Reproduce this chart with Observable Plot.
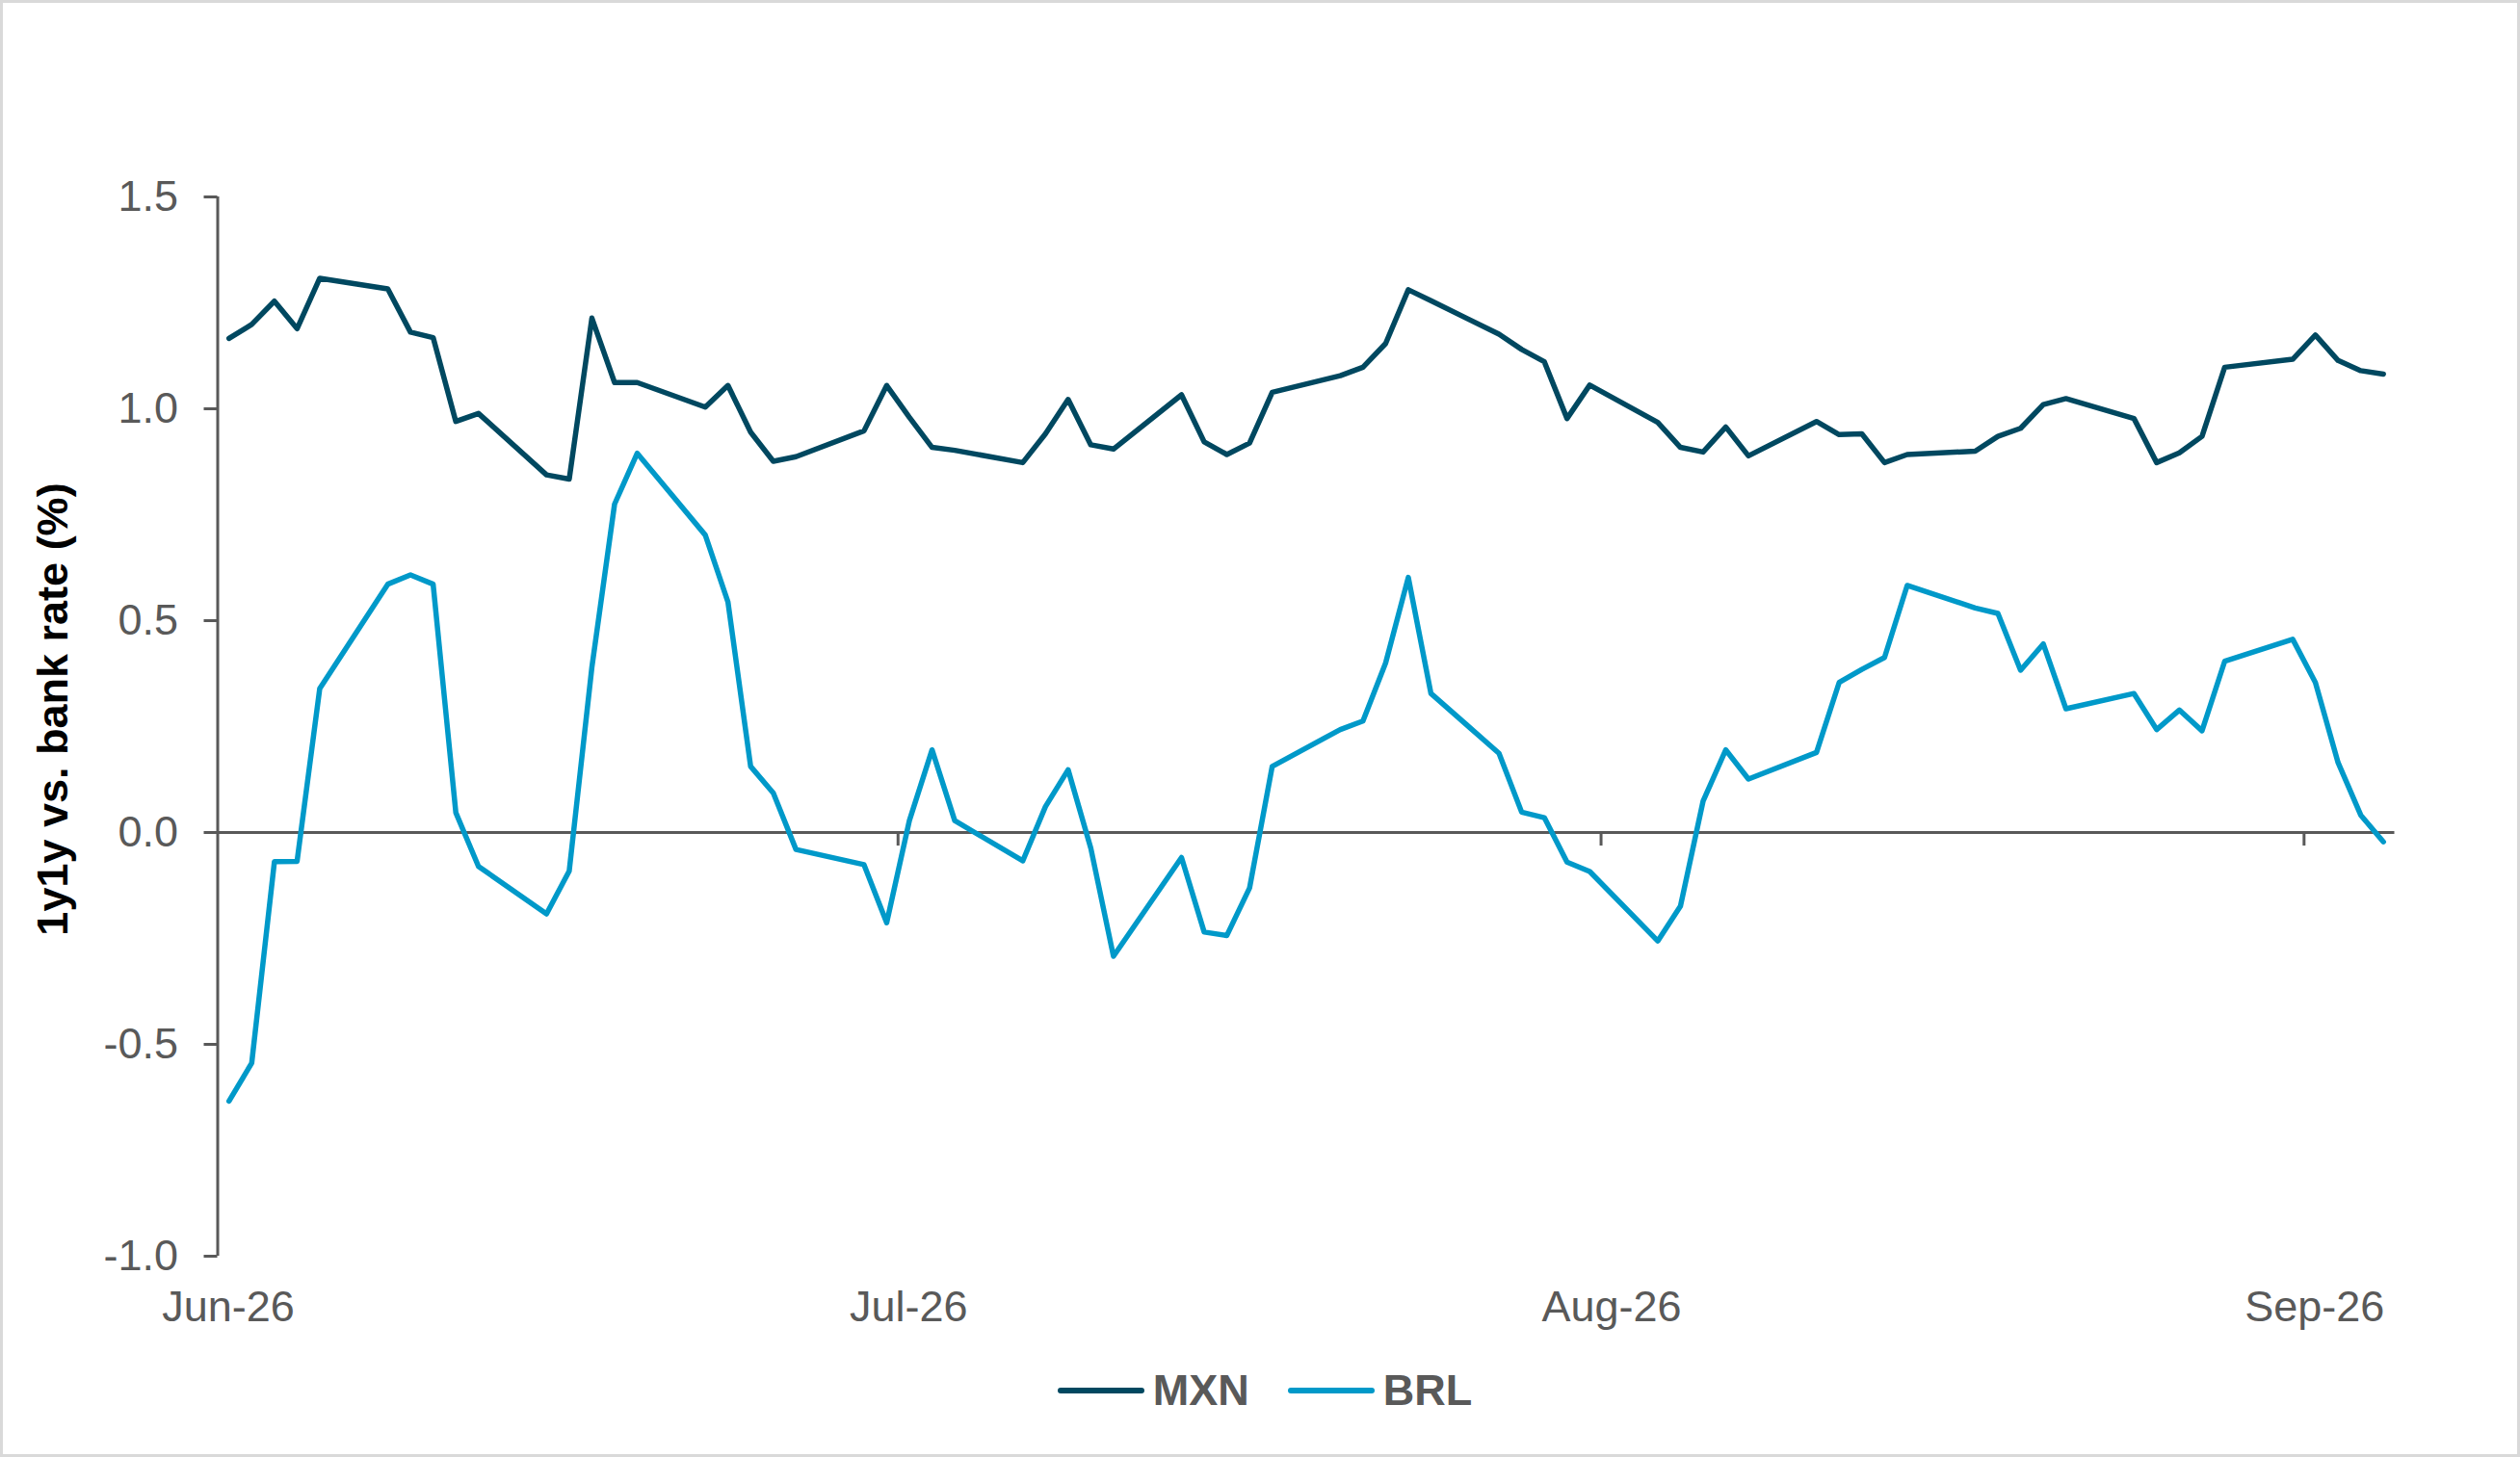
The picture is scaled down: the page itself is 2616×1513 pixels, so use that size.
<!DOCTYPE html>
<html>
<head>
<meta charset="utf-8">
<script src="https://cdn.jsdelivr.net/npm/d3@7"></script>
<script src="https://cdn.jsdelivr.net/npm/@observablehq/plot@0.6"></script>
<style>
  html, body { margin: 0; padding: 0; background: #ffffff; }
  #wrap { position: relative; width: 2616px; height: 1513px; background: #fff; }
  #frame { position: absolute; left: 0; top: 0; width: 2616px; height: 1513px; box-sizing: border-box; border: 3px solid #d9d9d9; pointer-events: none; }
  #legend { width: 2616px; height: 88px; box-sizing: border-box; padding-left: 10px; display: flex; justify-content: center; align-items: center; gap: 40px;
            font-family: "Liberation Sans", Arial, sans-serif; font-weight: bold; font-size: 45px; color: #595959; }
  .item { display: flex; align-items: center; }
  .swatch { width: 90px; height: 6.5px; border-radius: 3.25px; margin-right: 9px; }
</style>
</head>
<body>
<div id="wrap">
  <div id="chart"></div>
  <div id="legend"></div>
  <div id="frame"></div>
</div>
<script>
// ---- data ----
const dates = [
  "2026-06-01","2026-06-02","2026-06-03","2026-06-04","2026-06-05",
  "2026-06-08","2026-06-09","2026-06-10","2026-06-11","2026-06-12",
  "2026-06-15","2026-06-16","2026-06-17","2026-06-18","2026-06-19",
  "2026-06-22","2026-06-23","2026-06-24","2026-06-25","2026-06-26",
  "2026-06-29","2026-06-30","2026-07-01","2026-07-02","2026-07-03",
  "2026-07-06","2026-07-07","2026-07-08","2026-07-09","2026-07-10",
  "2026-07-13","2026-07-14","2026-07-15","2026-07-16","2026-07-17",
  "2026-07-20","2026-07-21","2026-07-22","2026-07-23","2026-07-24",
  "2026-07-27","2026-07-28","2026-07-29","2026-07-30","2026-07-31",
  "2026-08-03","2026-08-04","2026-08-05","2026-08-06","2026-08-07",
  "2026-08-10","2026-08-11","2026-08-12","2026-08-13","2026-08-14",
  "2026-08-17","2026-08-18","2026-08-19","2026-08-20","2026-08-21",
  "2026-08-24","2026-08-25","2026-08-26","2026-08-27","2026-08-28",
  "2026-08-31","2026-09-01","2026-09-02","2026-09-03","2026-09-04"
];

const mxn = [
  1.166, 1.199, 1.254, 1.189, 1.308,
  1.283, 1.181, 1.168, 0.970, 0.989,
  0.844, 0.834, 1.214, 1.062, 1.062,
  1.004, 1.055, 0.945, 0.876, 0.887,
  0.948, 1.055, 0.980, 0.909, 0.902,
  0.873, 0.941, 1.022, 0.915, 0.905,
  1.033, 0.922, 0.892, 0.919, 1.039,
  1.078, 1.098, 1.154, 1.281, 1.255,
  1.176, 1.140, 1.111, 0.977, 1.056,
  0.968, 0.909, 0.898, 0.957, 0.889,
  0.970, 0.939, 0.941, 0.873, 0.892,
  0.900, 0.935, 0.954, 1.010, 1.024,
  0.977, 0.873, 0.896, 0.935, 1.098,
  1.117, 1.174, 1.114, 1.090, 1.082
];

const brl = [
  -0.634, -0.544, -0.069, -0.068, 0.340,
  0.586, 0.608, 0.586, 0.047, -0.080,
  -0.192, -0.091, 0.390, 0.775, 0.895,
  0.702, 0.544, 0.156, 0.093, -0.040,
  -0.076, -0.213, 0.028, 0.195, 0.028,
  -0.067, 0.061, 0.148, -0.037, -0.292,
  -0.059, -0.235, -0.243, -0.131, 0.156,
  0.243, 0.263, 0.400, 0.602, 0.328,
  0.187, 0.048, 0.035, -0.070, -0.092,
  -0.256, -0.174, 0.074, 0.195, 0.126,
  0.189, 0.354, 0.385, 0.413, 0.583,
  0.530, 0.517, 0.383, 0.445, 0.292,
  0.328, 0.243, 0.289, 0.240, 0.404,
  0.456, 0.354, 0.165, 0.041, -0.022
];

const seriesNames = ["MXN", "BRL"];
const seriesColors = ["#004860", "#0099c9"];
const monthTicks = ["2026-06-01", "2026-07-01", "2026-08-01", "2026-09-01"];
const xDomain = ["2026-06-01", "2026-09-05"];
const yTicks = [-1.0, -0.5, 0.0, 0.5, 1.0, 1.5];
const yTitle = "1y1y vs. bank rate (%)";

// ---- build ----
const midDay = s => new Date(s + "T12:00:00Z");
const dayStart = s => new Date(s + "T00:00:00Z");
const values = {MXN: mxn, BRL: brl};
const rows = seriesNames.flatMap(name =>
  dates.map((d, i) => ({date: midDay(d), value: values[name][i], series: name}))
);
const ticks = monthTicks.map(dayStart);
const axisColor = "#595959";
const font = "'Liberation Sans', Arial, sans-serif";

const chart = Plot.plot({
  width: 2616,
  height: 1400,
  marginLeft: 225.5,
  marginRight: 130.5,
  marginTop: 204,
  marginBottom: 96,
  style: {fontFamily: font, color: axisColor, background: "transparent", overflow: "visible"},
  x: {type: "utc", domain: xDomain.map(dayStart)},
  y: {domain: [-1, 1.5]},
  color: {domain: seriesNames, range: seriesColors},
  marks: [
    Plot.ruleY([0], {stroke: axisColor, strokeWidth: 3}),
    Plot.ruleX(ticks.slice(1), {x: d => d, y1: 0, y2: -0.032, stroke: axisColor, strokeWidth: 3}),
    Plot.ruleX([ticks[0]], {x: d => d, stroke: axisColor, strokeWidth: 3}),
    Plot.axisY({ticks: yTicks, tickSize: 14, tickPadding: 27, strokeWidth: 3,
                tickFormat: d => d.toFixed(1), fontSize: 45, label: null}),
    Plot.axisX({ticks: ticks, tickSize: 0, tickPadding: 36, dx: 11,
                tickFormat: d3.utcFormat("%b-%y"), fontSize: 45, label: null}),
    Plot.lineY(rows, {x: "date", y: "value", z: "series", stroke: "series",
                      strokeWidth: 5.5, strokeLinejoin: "round", strokeLinecap: "round"}),
    Plot.text([yTitle], {text: d => d, frameAnchor: "left", textAnchor: "middle", lineAnchor: "middle",
                         rotate: -90, dx: -170, dy: -18,
                         fontSize: 45, fontWeight: "bold", fill: "#000000"})
  ]
});
document.getElementById("chart").appendChild(chart);

// ---- legend ----
const legend = document.getElementById("legend");
seriesNames.forEach((name, i) => {
  const item = document.createElement("div");
  item.className = "item";
  const sw = document.createElement("span");
  sw.className = "swatch";
  sw.style.background = seriesColors[i];
  const label = document.createElement("span");
  label.textContent = name;
  item.appendChild(sw);
  item.appendChild(label);
  legend.appendChild(item);
});
</script>
</body>
</html>
